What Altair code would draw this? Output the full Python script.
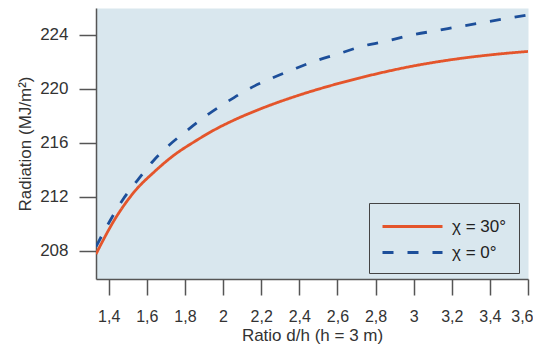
import altair as alt
import pandas as pd

ratio_30 = [1.3333, 1.43, 1.535, 1.64, 1.744, 1.849, 1.953, 2.058, 2.195, 2.404, 2.61, 2.8,
            2.98, 3.19, 3.4, 3.6]
rad_30 = [207.75, 210.28, 212.38, 213.86, 215.1, 216.08, 216.95, 217.69, 218.51, 219.56,
          220.42, 221.1, 221.65, 222.15, 222.52, 222.78]
ratio_0 = [1.3333, 1.404, 1.473, 1.552, 1.63, 1.718, 1.814, 1.918, 2.023, 2.14, 2.255, 2.378,
           2.49, 2.613, 2.735, 2.868, 2.99, 3.12, 3.24, 3.37, 3.496, 3.6]
rad_0 = [208.3, 210.15, 211.76, 213.24, 214.6, 215.84, 216.95, 218.07, 219.05, 220.04, 220.79,
         221.5, 222.1, 222.64, 223.18, 223.58, 224.0, 224.32, 224.62, 224.94, 225.24, 225.48]
series = ["χ = 30°", "χ = 0°"]
x_ticks = [1.4, 1.6, 1.8, 2.0, 2.2, 2.4, 2.6, 2.8, 3.0, 3.2, 3.4, 3.6]
y_ticks = [208, 212, 216, 220, 224]

df = pd.concat([
    pd.DataFrame({"ratio": ratio_30, "rad": rad_30, "series": series[0]}),
    pd.DataFrame({"ratio": ratio_0, "rad": rad_0, "series": series[1]}),
])

FONT = "Liberation Sans"
BG = "#d9e7ee"

leg = alt.Legend(title=None, orient="none", legendX=273, legendY=195)

chart = alt.Chart(df).mark_line(interpolate="monotone", strokeWidth=2.8, clip=True).encode(
    x=alt.X("ratio:Q",
            scale=alt.Scale(domain=[1.3333, 3.6], nice=False, zero=False),
            axis=alt.Axis(values=x_ticks,
                          labelExpr="replace(format(datum.value, '~g'), '.', ',')",
                          title="Ratio d/h (h = 3 m)", labelFlush=True, labelFlushOffset=5,
                          labelFontSize=16,
                          tickSize=16, labelPadding=13, titlePadding=3)),
    y=alt.Y("rad:Q",
            scale=alt.Scale(domain=[205.9, 226], nice=False, zero=False),
            axis=alt.Axis(values=y_ticks, title="Radiation (MJ/m²)", labelFlush=False,
                          tickSize=17, labelPadding=11, titlePadding=5)),
    color=alt.Color("series:N", scale=alt.Scale(domain=series, range=["#e4552b", "#1d4f9a"]),
                    legend=leg),
    strokeDash=alt.StrokeDash("series:N", scale=alt.Scale(domain=series, range=[[1, 0], [11, 14]]),
                              legend=leg),
).properties(
    width=432, height=271,
    autosize=alt.AutoSizeParams(type="none"),
    padding={"left": 88, "top": 0, "right": 5, "bottom": 67},
).configure_view(
    fill=BG, stroke="transparent"
).configure_axis(
    grid=False, domainColor="#555", domainWidth=1.5, tickColor="#555", tickWidth=1.5,
    labelFont=FONT, labelFontSize=17, labelColor="#333",
    titleFont=FONT, titleFontSize=17, titleFontWeight="normal", titleColor="#333",
).configure_legend(
    symbolType="M-1,0H5", symbolSize=400, symbolStrokeWidth=3,
    labelFont=FONT, labelFontSize=17, labelColor="#222",
    fillColor=BG, strokeColor="#444", padding=12, rowPadding=6, labelOffset=48,
    cornerRadius=0,
)

chart.save("out.html", embed_options={"renderer": "svg", "actions": False})
